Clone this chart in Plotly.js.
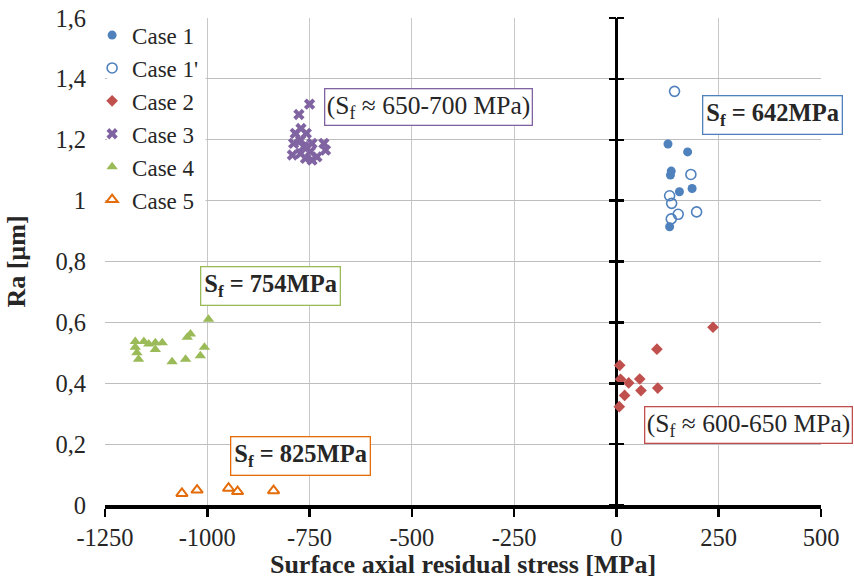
<!DOCTYPE html>
<html>
<head>
<meta charset="utf-8">
<script src="https://cdn.plot.ly/plotly-3.0.1.min.js"></script>
<style>html,body{margin:0;padding:0;background:#fff}#chart{width:854px;height:579px}</style>
</head>
<body>
<div id="chart"></div>
<script>
// Case 1 (filled circles)
const case1X = [126, 174, 134, 132, 154, 185, 130];
const case1Y = [1.186, 1.160, 1.097, 1.084, 1.029, 1.040, 0.914];
// Case 1' (open circles)
const case1pX = [142, 182, 130, 135, 196, 151, 134];
const case1pY = [1.359, 1.086, 1.016, 0.991, 0.963, 0.955, 0.940];
// Case 2 (diamonds)
const case2X = [236, 99, 8, 10, 30, 57, 60, 101, 20, 7];
const case2Y = [0.584, 0.512, 0.459, 0.413, 0.401, 0.414, 0.376, 0.384, 0.360, 0.323];
// Case 3 (crosses)
const case3X = [-750, -776, -771, -785, -758, -715, -744, -772, -789, -764, -711, -792, -772, -748, -744, -760, -732];
const case3Y = [1.317, 1.283, 1.237, 1.221, 1.221, 1.188, 1.188, 1.199, 1.188, 1.177, 1.166, 1.150, 1.155, 1.161, 1.133, 1.139, 1.144];
// Case 4 (triangles)
const case4X = [-997, -1041, -1049, -1176, -1155, -1143, -1127, -1110, -1127, -1176, -1172, -1168, -1086, -1053, -1017, -1007];
const case4Y = [0.610, 0.562, 0.551, 0.537, 0.537, 0.529, 0.533, 0.533, 0.511, 0.518, 0.500, 0.479, 0.471, 0.479, 0.490, 0.518];
// Case 5 (open triangles)
const case5X = [-1062, -1025, -948, -926, -838];
const case5Y = [0.038, 0.049, 0.055, 0.044, 0.047];

const xTickVals = [-1250, -1000, -750, -500, -250, 0, 250, 500];
const xTickText = ['-1250', '-1000', '-750', '-500', '-250', '0', '250', '500'];
const yTickVals = [0, 0.2, 0.4, 0.6, 0.8, 1, 1.2, 1.4, 1.6];
const yTickText = ['0', '0,2', '0,4', '0,6', '0,8', '1', '1,2', '1,4', '1,6'];

const FONT = "'Liberation Serif', 'Times New Roman', serif";
const TXT = '#262626';
const cBlue = '#4F81BD', cRed = '#C0504D', cPurple = '#8064A2', cGreen = '#9BBB59', cOrange = '#E46C0A';

const traces = [
  {name: 'Case 1', x: case1X, y: case1Y, legendgroup: 'a', marker: {symbol: 'circle', size: 9, color: cBlue}},
  {name: "Case 1'", x: case1pX, y: case1pY, legendgroup: 'b', marker: {symbol: 'circle-open', size: 10, color: cBlue, line: {width: 1.6, color: cBlue}}},
  {name: 'Case 2', x: case2X, y: case2Y, legendgroup: 'c', marker: {symbol: 'diamond', size: 9, color: cRed}},
  {name: 'Case 3', x: case3X, y: case3Y, legendgroup: 'd', marker: {symbol: 'x', size: 10, color: cPurple, line: {width: 0}}},
  {name: 'Case 4', x: case4X, y: case4Y, legendgroup: 'e', marker: {symbol: 'triangle-up', size: 10, color: cGreen}},
  {name: 'Case 5', x: case5X, y: case5Y, legendgroup: 'f', marker: {symbol: 'triangle-up-open', size: 10, color: cOrange, line: {width: 2, color: cOrange}}}
].map(t => Object.assign({type: 'scatter', mode: 'markers', cliponaxis: false}, t));

// helper traces so the overlay axes are drawn
traces.push({type: 'scatter', x: [null], y: [null], yaxis: 'y2', showlegend: false, hoverinfo: 'skip'});
traces.push({type: 'scatter', x: [null], y: [null], yaxis: 'y3', showlegend: false, hoverinfo: 'skip'});

function box(text, x, y, color, size, pad) {
  return {text: text, x: x, y: y, xref: 'x', yref: 'y', showarrow: false,
    xanchor: 'center', yanchor: 'middle', bgcolor: '#ffffff', bordercolor: color,
    borderwidth: 1.3, borderpad: pad, font: {family: FONT, size: size, color: TXT}};
}

const zeroPos = (0 - (-1250)) / (500 - (-1250));

const layout = {
  width: 854, height: 579,
  margin: {l: 105, r: 33, t: 18, b: 74},
  paper_bgcolor: '#ffffff', plot_bgcolor: '#ffffff',
  font: {family: FONT, size: 23, color: TXT},
  showlegend: true,
  legend: {x: -0.018, y: 1.009, xanchor: 'left', yanchor: 'top', bgcolor: 'rgba(0,0,0,0)',
    font: {family: FONT, size: 23, color: TXT}, tracegroupgap: 0, itemwidth: 30},
  shapes: [
    {type: 'rect', xref: 'paper', yref: 'paper', x0: 0.003, x1: 0.1405, y0: 0.6, y1: 0.997,
     fillcolor: '#ffffff', line: {width: 0}, layer: 'above'}
  ],
  xaxis: {
    range: [-1250, 500], tickvals: xTickVals, ticktext: xTickText,
    showgrid: true, gridcolor: '#C8C8C8', gridwidth: 1,
    zeroline: true, zerolinecolor: '#000000', zerolinewidth: 3.5,
    showline: true, linecolor: '#000000', linewidth: 3.5,
    ticks: 'outside', ticklen: 8, tickwidth: 2.5, tickcolor: '#000000',
    tickfont: {family: FONT, size: 24.5, color: TXT},
    title: {text: '<b>Surface axial residual stress [MPa]</b>', font: {family: FONT, size: 26, color: TXT}, standoff: 2},
    fixedrange: true
  },
  yaxis: {
    range: [0, 1.6], tickvals: yTickVals, ticktext: yTickText,
    showgrid: true, gridcolor: '#BEBEBE', gridwidth: 1,
    zeroline: false, showline: false, ticks: '',
    ticklabelstandoff: 18,
    tickfont: {family: FONT, size: 24.5, color: TXT},
    title: {text: '<b>Ra [µm]</b>', font: {family: FONT, size: 26, color: TXT}, standoff: 22},
    fixedrange: true
  },
  yaxis2: {
    overlaying: 'y', anchor: 'free', position: zeroPos, side: 'left',
    range: [0, 1.6], tickvals: yTickVals, showticklabels: false, showgrid: false, zeroline: false,
    showline: false, ticks: 'outside', ticklen: 7, tickwidth: 2.5, tickcolor: '#000000', fixedrange: true
  },
  yaxis3: {
    overlaying: 'y', anchor: 'free', position: zeroPos, side: 'right',
    range: [0, 1.6], tickvals: yTickVals, showticklabels: false, showgrid: false, zeroline: false,
    showline: false, ticks: 'outside', ticklen: 7, tickwidth: 2.5, tickcolor: '#000000', fixedrange: true
  },
  annotations: [
    box('(S<sub>f</sub> ≈ 650-700 MPa)', -460, 1.307, cPurple, 25.5, 1.5),
    box('<b>S<sub>f</sub> = 642MPa</b>', 381, 1.281, cBlue, 24.5, 3),
    box('<b>S<sub>f</sub> = 754MPa</b>', -846, 0.719, cGreen, 24.5, 3),
    box('(S<sub>f</sub> ≈ 600-650 MPa)', 323, 0.263, cRed, 25.5, 1.5),
    box('<b>S<sub>f</sub> = 825MPa</b>', -772, 0.161, cOrange, 24.5, 3)
  ]
};

Plotly.newPlot('chart', traces, layout, {displayModeBar: false, staticPlot: true});
</script>
</body>
</html>
